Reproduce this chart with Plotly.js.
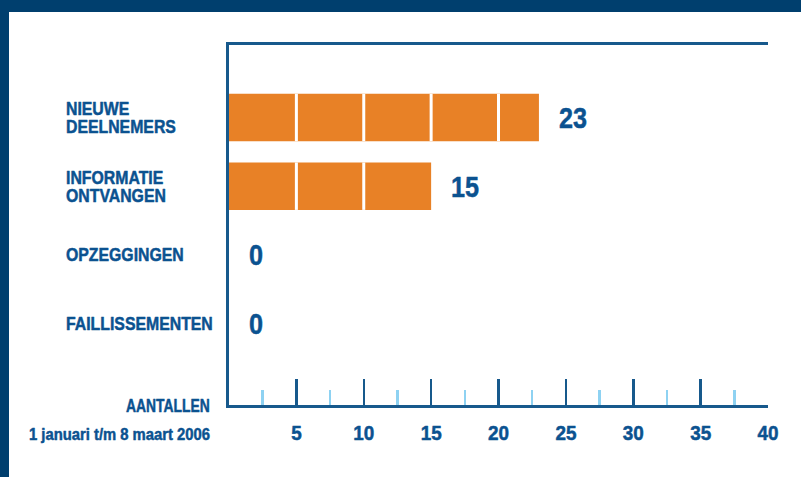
<!DOCTYPE html>
<html>
<head>
<meta charset="utf-8">
<script src="https://cdn.plot.ly/plotly-3.0.1.min.js"></script>
<style>
  html, body { margin: 0; padding: 0; width: 801px; height: 477px; overflow: hidden; background: #003F6E; }
  #chart { position: absolute; left: 9px; top: 12px; width: 792px; height: 465px; background: #ffffff; }
</style>
</head>
<body>
<div id="chart"></div>
<script>
// ---- data ----
const categories = ["NIEUWE DEELNEMERS", "INFORMATIE ONTVANGEN", "OPZEGGINGEN", "FAILLISSEMENTEN"];
const categoryLines = [["NIEUWE", "DEELNEMERS"], ["INFORMATIE", "ONTVANGEN"], ["OPZEGGINGEN"], ["FAILLISSEMENTEN"]];
const values = [23, 15, 0, 0];
const tickValues = [5, 10, 15, 20, 25, 30, 35, 40];
const tickLabels = ["5", "10", "15", "20", "25", "30", "35", "40"];
const axisTitle = "AANTALLEN";
const periodLabel = "1 januari t/m 8 maart 2006";

// ---- style ----
const FONT = "'Liberation Sans', Arial, sans-serif";
const TEXT = "#0B5290";
const AXIS = "#17598C";
const ORANGE = "#E88126";
const SEG = 5;          // block size shown by white separators
const BARW = 0.69;      // bar thickness in category units
const CAT_SIZE = 18.5;

const yIdx = categories.map((c, i) => i);

// solid bars
const traces = [{
  type: "bar", orientation: "h",
  x: values, y: yIdx, width: BARW,
  marker: { color: ORANGE, line: { width: 0 } },
  hoverinfo: "skip", showlegend: false
}];

// white separators every SEG units inside each bar
const sepX = [], sepY = [];
values.forEach((v, i) => {
  for (let m = SEG; m < v; m += SEG) {
    sepX.push(m, m, null);
    sepY.push(i - BARW / 2, i + BARW / 2, null);
  }
});
traces.push({
  type: "scatter", mode: "lines", x: sepX, y: sepY,
  line: { color: "#ffffff", width: 3 },
  hoverinfo: "skip", showlegend: false, cliponaxis: true
});

const annotations = [];
const squeezeInfo = [];
// value labels
values.forEach((v, i) => {
  annotations.push({
    x: v, y: i, xref: "x", yref: "y", text: String(v), showarrow: false,
    xanchor: "left", yanchor: "middle", xshift: 18,
    font: { family: FONT, size: 30, color: TEXT, weight: "bold" }
  });
  squeezeInfo.push({ f: 0.84, anchor: "left" });
});
// category labels (left aligned, tight line spacing)
categoryLines.forEach((lines, i) => {
  annotations.push({
    x: -0.306, y: i, xref: "paper", yref: "y", text: lines.join("<br>"), showarrow: false,
    xanchor: "left", yanchor: "middle", align: "left", yshift: 0,
    font: { family: FONT, size: CAT_SIZE, color: TEXT, weight: "bold" }
  });
  squeezeInfo.push({ f: 0.855, anchor: "left", pitch: 18.5 });
});
annotations.push({
  x: -0.0315, y: 0, xref: "paper", yref: "paper", text: axisTitle, showarrow: false,
  xanchor: "right", yanchor: "middle", yshift: -1,
  font: { family: FONT, size: 18, color: TEXT, weight: "bold" }
});
squeezeInfo.push({ f: 0.77, anchor: "right" });
annotations.push({
  x: -0.0315, y: 0, xref: "paper", yref: "paper", text: periodLabel, showarrow: false,
  xanchor: "right", yanchor: "middle", yshift: -29,
  font: { family: FONT, size: 17, color: TEXT, weight: "bold" }
});
squeezeInfo.push({ f: 0.87, anchor: "right" });

const layout = {
  width: 792, height: 465,
  margin: { l: 220, r: 33, t: 33, b: 72 },
  paper_bgcolor: "#ffffff", plot_bgcolor: "#ffffff",
  barmode: "overlay",
  showlegend: false,
  xaxis: {
    range: [0, 40], showgrid: false, zeroline: false,
    showline: true, linecolor: AXIS, linewidth: 3, mirror: true,
    tickmode: "array", tickvals: tickValues, ticktext: tickLabels,
    ticks: "inside", ticklen: 26, tickwidth: 2.5, tickcolor: AXIS,
    minor: { tick0: 2.5, dtick: 5, ticks: "inside", ticklen: 15, tickwidth: 2.5, tickcolor: "#8ED2F2", showgrid: false },
    ticklabelstandoff: 7,
    tickfont: { family: FONT, size: 21, color: TEXT, weight: "bold" },
    fixedrange: true
  },
  yaxis: {
    range: [4.185, -1.055], showgrid: false, zeroline: false,
    showline: true, linecolor: AXIS, linewidth: 3,
    showticklabels: false, ticks: "", fixedrange: true
  },
  annotations: annotations
};

// condense a text element horizontally (the reference uses a condensed face)
function squeeze(el, f, anchor) {
  const r0 = el.getBoundingClientRect();
  const w = el.getComputedTextLength();
  if (!w) return;
  el.setAttribute("textLength", (w * f).toFixed(2));
  el.setAttribute("lengthAdjust", "spacingAndGlyphs");
  const r1 = el.getBoundingClientRect();
  let dx = 0;
  if (anchor === "left") dx = r0.left - r1.left;
  else if (anchor === "right") dx = r0.right - r1.right;
  if (dx) el.setAttribute("x", (parseFloat(el.getAttribute("x") || 0) + dx).toFixed(2));
}
function heavy(el) {
  el.style.stroke = TEXT;
  el.style.strokeWidth = "0.5px";
  el.style.strokeLinejoin = "round";
}

Plotly.newPlot("chart", traces, layout, { staticPlot: true, displayModeBar: false }).then(gd => {
  gd.querySelectorAll(".annotation").forEach(a => {
    const idx = +a.getAttribute("data-index");
    const info = squeezeInfo[idx];
    const t = a.querySelector("text.annotation-text");
    if (!t || !info) return;
    heavy(t);
    const lines = t.querySelectorAll("tspan.line");
    const c0 = t.getBoundingClientRect();
    if (lines.length > 1) {
      lines.forEach((ln, k) => {
        squeeze(ln, info.f, info.anchor);
        ln.setAttribute("dy", (k * info.pitch / CAT_SIZE).toFixed(3) + "em");
      });
      const c1 = t.getBoundingClientRect();
      const dy = (c0.top + c0.bottom) / 2 - (c1.top + c1.bottom) / 2;
      const prev = t.getAttribute("transform") || "";
      t.setAttribute("transform", "translate(0," + dy.toFixed(2) + ") " + prev);
    } else {
      squeeze(t, info.f, info.anchor);
    }
    // keep the annotation's background box in step with the condensed text
    const bg = a.querySelector("rect.bg");
    if (bg) {
      const bb = t.getBoundingClientRect();
      const pr = bg.getBoundingClientRect();
      const x0 = parseFloat(bg.getAttribute("x") || 0), y0 = parseFloat(bg.getAttribute("y") || 0);
      bg.setAttribute("x", (x0 + bb.left - pr.left).toFixed(2));
      bg.setAttribute("y", (y0 + bb.top - pr.top).toFixed(2));
      bg.setAttribute("width", bb.width.toFixed(2));
      bg.setAttribute("height", bb.height.toFixed(2));
    }
  });
  gd.querySelectorAll(".xtick text").forEach(t => { heavy(t); squeeze(t, 0.9, "middle"); });
});
</script>
</body>
</html>
